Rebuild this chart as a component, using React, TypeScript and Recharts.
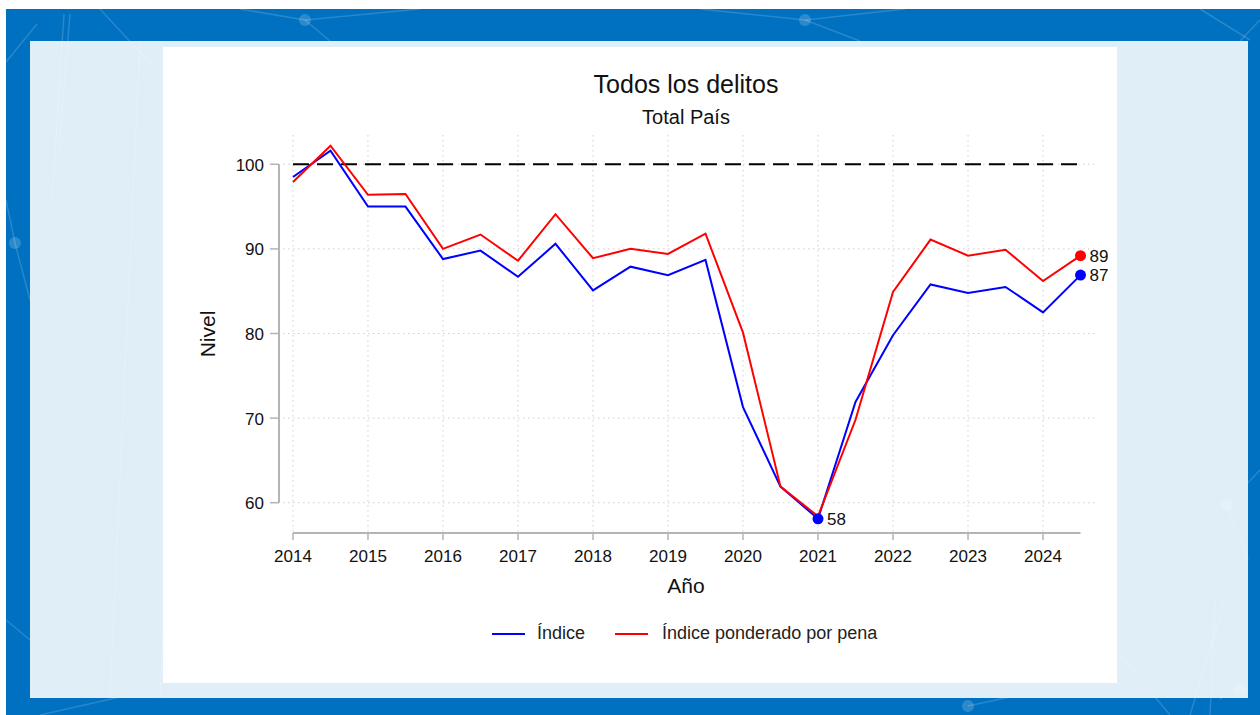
import React from "react";
import {
  CartesianGrid,
  ComposedChart,
  Legend,
  Line,
  ReferenceDot,
  ReferenceLine,
  XAxis,
  YAxis,
} from "recharts";

const FONT = '"Liberation Sans", Arial, sans-serif';
const AXIS = "#b4b4b4";

// semesters, 2014 .. 2024 (first half / second half)
const years = [
  2014, 2014.5, 2015, 2015.5, 2016, 2016.5, 2017, 2017.5, 2018, 2018.5, 2019,
  2019.5, 2020, 2020.5, 2021, 2021.5, 2022, 2022.5, 2023, 2023.5, 2024, 2024.5,
];

const indice = [
  98.5, 101.6, 95.0, 95.0, 88.8, 89.8, 86.7, 90.6, 85.1, 87.9, 86.9, 88.7,
  71.3, 61.9, 58.1, 71.9, 79.8, 85.8, 84.8, 85.5, 82.5, 86.9,
];

const ponderado = [
  97.9, 102.2, 96.4, 96.5, 90.0, 91.7, 88.6, 94.1, 88.9, 90.0, 89.4, 91.8,
  80.1, 61.9, 58.4, 69.8, 84.9, 91.1, 89.2, 89.9, 86.2, 89.2,
];

const xTicks = [2014, 2015, 2016, 2017, 2018, 2019, 2020, 2021, 2022, 2023, 2024];
const yTicks = [60, 70, 80, 90, 100];

const xDomain = [2013.867, 2024.693];
const yDomain = [56.42, 103.46];

// points that carry a marker and a value label
const markedIndice = [2021, 2024.5];
const markedPonderado = [2024.5];

const data = years.map((year, i) => ({
  year,
  indice: indice[i],
  ponderado: ponderado[i],
}));

const series = [
  { key: "indice", name: "Índice", color: "#0000ff", values: indice, marked: markedIndice },
  { key: "ponderado", name: "Índice ponderado por pena", color: "#ff0000", values: ponderado, marked: markedPonderado },
];

// faint network decoration of the page background
const netLines = [
  [6, 62, 37, 24], [70, 14, 58, 160], [64, 14, 52, 200], [100, 9, 170, 85],
  [240, 9, 305, 20], [305, 20, 420, 9], [305, 20, 330, 41], [700, 9, 805, 20],
  [805, 20, 905, 9], [805, 20, 860, 41], [1250, 40, 1200, 9], [1260, 20, 1240, 41],
  [6, 200, 15, 243], [15, 243, 30, 300], [6, 620, 30, 640], [40, 715, 120, 697],
  [1227, 505, 1260, 470], [1227, 505, 1248, 560], [968, 706, 1010, 697],
  [1120, 655, 1170, 715], [1215, 600, 1210, 715], [1225, 600, 1190, 715],
  [1248, 650, 1220, 700], [140, 41, 110, 697], [190, 41, 160, 697],
];
const netNodes = [[305, 20], [805, 20], [15, 243], [1227, 505], [968, 706], [1240, 690]];

const YTick = (props: any) => {
  const { x, y, payload } = props;
  return (
    <g>
      <line x1={x - 13} x2={x - 4} y1={y} y2={y} stroke={AXIS} strokeWidth={1.5} />
      <text x={x - 19} y={y} dy="0.38em" textAnchor="end" fill="#111" fontSize={17} fontFamily={FONT}>
        {payload.value}
      </text>
    </g>
  );
};

const renderLegend = () => (
  <div style={{ display: "flex", alignItems: "center", fontFamily: FONT, fontSize: 18, color: "#222", lineHeight: "21px" }}>
    {series.map((s, i) => (
      <div key={s.key} style={{ display: "flex", alignItems: "center", marginLeft: i ? 30 : 0 }}>
        <svg width={33} height={4} style={{ marginRight: i ? 14 : 12 }}>
          <line x1={0} x2={33} y1={2} y2={2} stroke={s.color} strokeWidth={2} />
        </svg>
        <span>{s.name}</span>
      </div>
    ))}
  </div>
);

export default function App() {
  return (
    <div style={{ position: "absolute", left: 0, top: 0, width: 1260, height: 715, background: "#fff", overflow: "hidden", fontFamily: FONT }}>
      <div style={{ position: "absolute", left: 6, top: 9, width: 1254, height: 706, background: "#0070c0" }} />
      <svg width={1260} height={715} style={{ position: "absolute", left: 0, top: 0 }}>
        {netLines.map((l, i) => (
          <line key={i} x1={l[0]} y1={l[1]} x2={l[2]} y2={l[3]} stroke="rgba(255,255,255,0.16)" strokeWidth={1.5} />
        ))}
        {netNodes.map((n, i) => (
          <circle key={i} cx={n[0]} cy={n[1]} r={6} fill="rgba(255,255,255,0.18)" />
        ))}
      </svg>
      <div style={{ position: "absolute", left: 30, top: 41, width: 1218, height: 657, background: "rgba(255,255,255,0.88)" }} />
      <div style={{ position: "absolute", left: 163, top: 47, width: 954, height: 636, background: "#fff" }} />

      <div style={{ position: "absolute", left: 486, top: 72, width: 400, textAlign: "center", fontSize: 25, lineHeight: "25px", color: "#111" }}>
        Todos los delitos
      </div>
      <div style={{ position: "absolute", left: 486, top: 107, width: 400, textAlign: "center", fontSize: 20, lineHeight: "20px", color: "#111" }}>
        Total País
      </div>

      <div style={{ position: "absolute", left: 0, top: 0 }}>
        <ComposedChart
          width={1260}
          height={715}
          data={data}
          margin={{ top: 135, right: 165, left: 133, bottom: 122 }}
        >
          <CartesianGrid
            stroke="#cfcfcf"
            strokeDasharray="1.5 3.5"
            horizontalValues={yTicks}
            verticalValues={xTicks}
          />
          <XAxis
            dataKey="year"
            type="number"
            domain={xDomain}
            ticks={xTicks}
            allowDataOverflow
            height={60}
            axisLine={false}
            tickLine={{ stroke: AXIS, strokeWidth: 1.5 }}
            tickSize={7}
            tickMargin={10}
            tick={{ fill: "#111", fontSize: 17, fontFamily: FONT }}
            label={{ value: "Año", position: "insideBottom", offset: 0, dx: -3, fill: "#111", fontSize: 21, fontFamily: FONT }}
          />
          <YAxis
            type="number"
            domain={yDomain}
            ticks={yTicks}
            allowDataOverflow
            width={150}
            axisLine={false}
            tickLine={false}
            tickSize={0}
            tickMargin={0}
            tick={<YTick />}
            label={{ value: "Nivel", angle: -90, position: "center", fill: "#111", fontSize: 21, fontFamily: FONT }}
          />
          <ReferenceLine
            segment={[{ x: xDomain[0] - 0.053, y: yTicks[0] }, { x: xDomain[0] - 0.053, y: yTicks[yTicks.length - 1] }]}
            stroke={AXIS}
            strokeWidth={2}
            ifOverflow="visible"
          />
          <ReferenceLine
            segment={[{ x: years[0], y: yDomain[0] }, { x: years[years.length - 1], y: yDomain[0] }]}
            stroke={AXIS}
            strokeWidth={2}
            ifOverflow="visible"
          />
          <ReferenceLine
            segment={[{ x: years[0], y: 100 }, { x: years[years.length - 1], y: 100 }]}
            stroke="#000"
            strokeWidth={2}
            strokeDasharray="16 8"
          />
          {series.map((s) => (
            <Line
              key={s.key}
              type="linear"
              dataKey={s.key}
              name={s.name}
              stroke={s.color}
              strokeWidth={2}
              dot={false}
              activeDot={false}
              isAnimationActive={false}
            />
          ))}
          {series.flatMap((s) =>
            s.marked.map((yr) => {
              const v = s.values[years.indexOf(yr)];
              return (
                <ReferenceDot
                  key={s.key + yr}
                  x={yr}
                  y={v}
                  r={5.5}
                  fill={s.color}
                  stroke="none"
                  ifOverflow="visible"
                  label={{ value: String(Math.round(v)), position: "right", offset: 3.5, fill: "#111", fontSize: 17, fontFamily: FONT }}
                />
              );
            })
          )}
          <Legend
            layout="horizontal"
            align="center"
            verticalAlign="middle"
            content={renderLegend}
            wrapperStyle={{ left: 492, top: 623, width: 420 }}
          />
        </ComposedChart>
      </div>
    </div>
  );
}
